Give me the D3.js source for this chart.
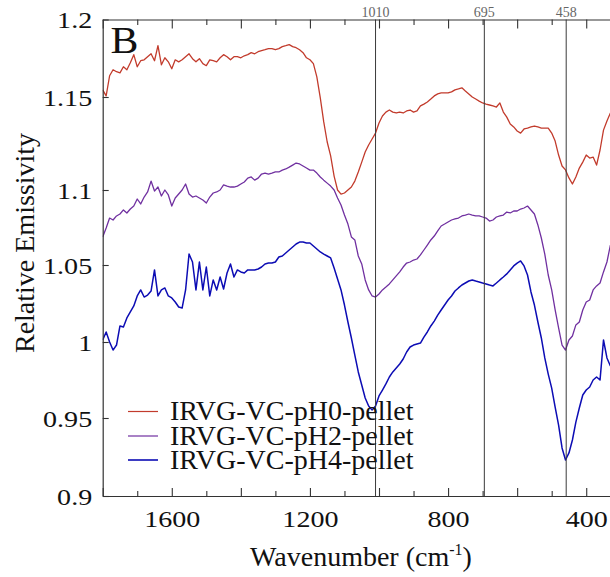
<!DOCTYPE html>
<html>
<head>
<meta charset="utf-8">
<script src="https://cdn.jsdelivr.net/npm/d3@7"></script>
<style>
  html, body { margin: 0; padding: 0; background: #fff; }
  svg { display: block; }
  svg text { font-family: "Liberation Serif", "Times New Roman", Times, serif; }
</style>
</head>
<body>
<svg id="chart" width="610" height="577"></svg>
<script>
// Sampling grid of the spectra (cm^-1), high to low
const wavenumbers = d3.range(1800, 329, -10);

// Relative emissivity, one value per wavenumber above
const pH0 = [
  1.1546, 1.1507, 1.1637, 1.1676, 1.1663, 1.1656, 1.1695, 1.1676, 1.1721, 1.1773,
  1.1695, 1.1734, 1.1740, 1.1760, 1.1779, 1.1734, 1.1831, 1.1708, 1.1753, 1.1727,
  1.1682, 1.1740, 1.1727, 1.1740, 1.1760, 1.1779, 1.1747, 1.1727, 1.1747, 1.1715,
  1.1702, 1.1740, 1.1734, 1.1727, 1.1753, 1.1773, 1.1760, 1.1740, 1.1760, 1.1760,
  1.1753, 1.1766, 1.1773, 1.1786, 1.1779, 1.1792, 1.1799, 1.1805, 1.1812, 1.1812,
  1.1805, 1.1812, 1.1825, 1.1831, 1.1838, 1.1825, 1.1818, 1.1805, 1.1786, 1.1753,
  1.1740, 1.1715, 1.1630, 1.1495, 1.1366, 1.1258, 1.1183, 1.1075, 1.1000, 1.0973,
  1.0980, 1.1000, 1.1016, 1.1048, 1.1097, 1.1150, 1.1204, 1.1242, 1.1274, 1.1306,
  1.1360, 1.1398, 1.1419, 1.1430, 1.1419, 1.1414, 1.1419, 1.1414, 1.1425, 1.1430,
  1.1419, 1.1425, 1.1452, 1.1462, 1.1473, 1.1489, 1.1507, 1.1520, 1.1526, 1.1526,
  1.1526, 1.1533, 1.1546, 1.1552, 1.1559, 1.1539, 1.1520, 1.1500, 1.1489, 1.1478,
  1.1468, 1.1462, 1.1457, 1.1452, 1.1446, 1.1468, 1.1419, 1.1392, 1.1355, 1.1339,
  1.1317, 1.1306, 1.1328, 1.1333, 1.1339, 1.1344, 1.1339, 1.1333, 1.1333, 1.1333,
  1.1306, 1.1263, 1.1188, 1.1129, 1.1108, 1.1065, 1.1032, 1.1070, 1.1118, 1.1150,
  1.1188, 1.1172, 1.1177, 1.1134, 1.1215, 1.1322, 1.1371, 1.1414
];
const pH2 = [
  1.0687, 1.0747, 1.0813, 1.0800, 1.0827, 1.0840, 1.0867, 1.0847, 1.0873, 1.0893,
  1.0940, 1.0907, 1.0953, 1.0987, 1.1048, 1.0993, 1.1016, 1.0960, 1.1000, 1.0967,
  1.0893, 1.0947, 1.0973, 1.1000, 1.1032, 1.0973, 1.0953, 1.0960, 1.0947, 1.0933,
  1.0913, 1.0953, 1.0980, 1.0987, 1.1000, 1.1027, 1.1021, 1.1016, 1.1016, 1.1021,
  1.1032, 1.1043, 1.1064, 1.1070, 1.1053, 1.1064, 1.1086, 1.1091, 1.1086, 1.1091,
  1.1097, 1.1097, 1.1107, 1.1113, 1.1123, 1.1134, 1.1145, 1.1140, 1.1129, 1.1118,
  1.1107, 1.1107, 1.1091, 1.1070, 1.1053, 1.1037, 1.1021, 1.1000, 1.0947, 1.0900,
  1.0833, 1.0773, 1.0687, 1.0667, 1.0560, 1.0507, 1.0403, 1.0338, 1.0299, 1.0292,
  1.0312, 1.0338, 1.0357, 1.0377, 1.0403, 1.0429, 1.0455, 1.0487, 1.0513, 1.0520,
  1.0533, 1.0540, 1.0567, 1.0600, 1.0633, 1.0667, 1.0693, 1.0727, 1.0760, 1.0773,
  1.0787, 1.0800, 1.0807, 1.0813, 1.0827, 1.0833, 1.0840, 1.0833, 1.0827, 1.0827,
  1.0820, 1.0813, 1.0793, 1.0800, 1.0820, 1.0827, 1.0833, 1.0853, 1.0847, 1.0860,
  1.0860, 1.0873, 1.0880, 1.0893, 1.0867, 1.0840, 1.0767, 1.0680, 1.0573, 1.0435,
  1.0338, 1.0208, 1.0091, 0.9980, 0.9947, 1.0013, 1.0039, 1.0111, 1.0130, 1.0208,
  1.0260, 1.0273, 1.0338, 1.0364, 1.0383, 1.0455, 1.0520, 1.0633
];
const pH4 = [
  1.0013, 1.0065, 1.0000, 0.9947, 0.9980, 1.0104, 1.0097, 1.0156, 1.0195, 1.0234,
  1.0299, 1.0338, 1.0292, 1.0305, 1.0331, 1.0468, 1.0299, 1.0338, 1.0351, 1.0299,
  1.0286, 1.0260, 1.0227, 1.0221, 1.0338, 1.0573, 1.0520, 1.0338, 1.0520, 1.0338,
  1.0487, 1.0299, 1.0403, 1.0338, 1.0422, 1.0344, 1.0448, 1.0507, 1.0422, 1.0468,
  1.0455, 1.0448, 1.0468, 1.0468, 1.0468, 1.0474, 1.0487, 1.0507, 1.0513, 1.0513,
  1.0520, 1.0553, 1.0560, 1.0580, 1.0600, 1.0620, 1.0640, 1.0653, 1.0653, 1.0647,
  1.0647, 1.0627, 1.0607, 1.0587, 1.0573, 1.0560, 1.0547, 1.0481, 1.0409, 1.0338,
  1.0240, 1.0130, 1.0026, 0.9914, 0.9803, 0.9717, 0.9632, 0.9579, 0.9553, 0.9579,
  0.9645, 0.9684, 0.9724, 0.9770, 0.9803, 0.9829, 0.9855, 0.9888, 0.9934, 0.9967,
  0.9980, 0.9987, 0.9993, 1.0032, 1.0065, 1.0104, 1.0136, 1.0175, 1.0208, 1.0240,
  1.0273, 1.0299, 1.0331, 1.0351, 1.0370, 1.0383, 1.0396, 1.0403, 1.0396, 1.0390,
  1.0383, 1.0377, 1.0370, 1.0364, 1.0383, 1.0403, 1.0422, 1.0442, 1.0468, 1.0494,
  1.0513, 1.0527, 1.0494, 1.0435, 1.0325, 1.0240, 1.0130, 1.0026, 0.9895, 0.9789,
  0.9697, 0.9572, 0.9455, 0.9308, 0.9231, 0.9276, 0.9359, 0.9474, 0.9566, 0.9651,
  0.9684, 0.9704, 0.9750, 0.9770, 0.9750, 1.0013, 0.9895, 0.9842
];

const seriesNames = ["IRVG-VC-pH0-pellet", "IRVG-VC-pH2-pellet", "IRVG-VC-pH4-pellet"];
const seriesColors = ["#c23b2c", "#7030a0", "#0c0cb4"];
const seriesWidths = [1.3, 1.3, 1.5];

// Band positions marked with vertical guides (cm^-1)
const bandPositions = [1010, 695, 458];

const yTickValues = [0.9, 0.95, 1, 1.05, 1.1, 1.15, 1.2];
const xLabelValues = [1600, 1200, 800, 400];
const xMajorValues = [1800, 1600, 1400, 1200, 1000, 800, 600, 400, 200];
const xMinorValues = [1700, 1500, 1300, 1100, 900, 700, 500, 300];

// ---- layout ----
const serif = "Liberation Serif, Times New Roman, Times, serif";
const plot = { left: 102.7, top: 19.5, bottom: 496, right: 655.3 };
const axisColor = "#333";

const svg = d3.select("#chart");

const x = d3.scaleLinear().domain([1800, 200]).range([plot.left, plot.right]);
// Tick rows of the value axis are not evenly spaced; a polylinear scale keeps them in place
const y = d3.scaleLinear()
  .domain(yTickValues)
  .range([496, 418, 342, 265, 190, 97, 19.5]);

svg.append("defs").append("clipPath").attr("id", "plot-clip")
  .append("rect")
  .attr("x", plot.left).attr("y", plot.top)
  .attr("width", plot.right - plot.left).attr("height", plot.bottom - plot.top);

// ---- spectra ----
const series = [pH0, pH2, pH4];
const line = d3.line()
  .x((d, i) => x(wavenumbers[i]))
  .y(d => y(d));

const lines = svg.append("g").attr("clip-path", "url(#plot-clip)");
series.forEach((vals, k) => {
  lines.append("path")
    .datum(vals)
    .attr("d", line)
    .attr("fill", "none")
    .attr("stroke", seriesColors[k])
    .attr("stroke-width", seriesWidths[k])
    .attr("stroke-linejoin", "round");
});

// ---- band guides ----
const bands = svg.append("g");
bands.selectAll("line").data(bandPositions).join("line")
  .attr("x1", d => x(d)).attr("x2", d => x(d))
  .attr("y1", plot.top).attr("y2", plot.bottom)
  .attr("stroke", "#3a3a3a").attr("stroke-width", 1);
bands.selectAll("text").data(bandPositions).join("text")
  .attr("x", d => x(d)).attr("y", 16.5)
  .attr("text-anchor", "middle")
  .style("font-family", serif).style("font-size", "14px")
  .attr("fill", "#666")
  .text(d => d);

// ---- axes ----
function styleAxis(g) {
  g.selectAll(".domain").attr("stroke", axisColor).attr("stroke-width", 1.2);
  g.selectAll(".tick line").attr("stroke", axisColor).attr("stroke-width", 1.1);
}

// bottom: major / minor ticks pointing inward
svg.append("g").attr("transform", `translate(0,${plot.bottom})`)
  .call(d3.axisBottom(x).tickValues(xMajorValues).tickSize(-8).tickSizeOuter(0).tickFormat(""))
  .call(styleAxis);
svg.append("g").attr("transform", `translate(0,${plot.bottom})`)
  .call(d3.axisBottom(x).tickValues(xMinorValues).tickSize(-5).tickSizeOuter(0).tickFormat(""))
  .call(g => g.select(".domain").remove())
  .call(styleAxis);

// top mirror axis
svg.append("g").attr("transform", `translate(0,${plot.top})`)
  .call(d3.axisTop(x).tickValues(xMajorValues).tickSize(-9).tickSizeOuter(0).tickFormat(""))
  .call(styleAxis);
svg.append("g").attr("transform", `translate(0,${plot.top})`)
  .call(d3.axisTop(x).tickValues(xMinorValues).tickSize(-5.5).tickSizeOuter(0).tickFormat(""))
  .call(g => g.select(".domain").remove())
  .call(styleAxis);

// bottom labels
svg.append("g").attr("transform", `translate(0,${plot.bottom})`)
  .call(d3.axisBottom(x).tickValues(xLabelValues).tickSize(0).tickFormat(d3.format("d")))
  .call(g => g.select(".domain").remove())
  .call(g => g.attr("font-family", null).attr("font-size", null))
  .call(g => g.selectAll("text")
    .attr("y", 0).attr("dy", null)
    .attr("transform", "translate(0,30.7) scale(1.17,1)")
    .style("font-family", serif).style("font-size", "24px").attr("fill", "#111"));

// left axis with labels
svg.append("g").attr("transform", `translate(${plot.left},0)`)
  .call(d3.axisLeft(y).tickValues(yTickValues).tickSize(-6).tickSizeOuter(0)
    .tickFormat(d => String(d)))
  .call(styleAxis)
  .call(g => g.attr("font-family", null).attr("font-size", null))
  .call(g => g.selectAll("text")
    .attr("x", 0).attr("dy", "0.34em")
    .attr("transform", "translate(-10.5,0) scale(1.17,1)")
    .style("font-family", serif).style("font-size", "24px").attr("fill", "#111"));

// ---- titles ----
const xTitle = svg.append("text")
  .attr("x", 361).attr("y", 566)
  .attr("text-anchor", "middle")
  .style("font-family", serif).style("font-size", "28px").attr("fill", "#111");
xTitle.append("tspan").text("Wavenumber (cm");
xTitle.append("tspan").style("font-size", "16px").attr("dy", -11).text("-1");
xTitle.append("tspan").attr("dy", 11).text(")");

svg.append("text")
  .attr("transform", "translate(34,243) rotate(-90)")
  .attr("text-anchor", "middle")
  .style("font-family", serif).style("font-size", "28px").attr("fill", "#111")
  .text("Relative Emissivity");

svg.append("text")
  .attr("transform", "translate(110.5,53) scale(1.1,1)")
  .style("font-family", serif).style("font-size", "38px").attr("fill", "#111")
  .text("B");

// ---- legend ----
const legend = svg.append("g");
const legendBaselines = [420, 444.5, 468.5];
seriesNames.forEach((name, k) => {
  const by = legendBaselines[k];
  legend.append("line")
    .attr("x1", 128).attr("x2", 158)
    .attr("y1", by - 8.5).attr("y2", by - 8.5)
    .attr("stroke", seriesColors[k]).attr("stroke-width", k === 2 ? 1.6 : 1.2);
  legend.append("text")
    .attr("x", 170).attr("y", by)
    .style("font-family", serif).style("font-size", "28px").attr("fill", "#111")
    .text(name);
});
</script>
</body>
</html>
